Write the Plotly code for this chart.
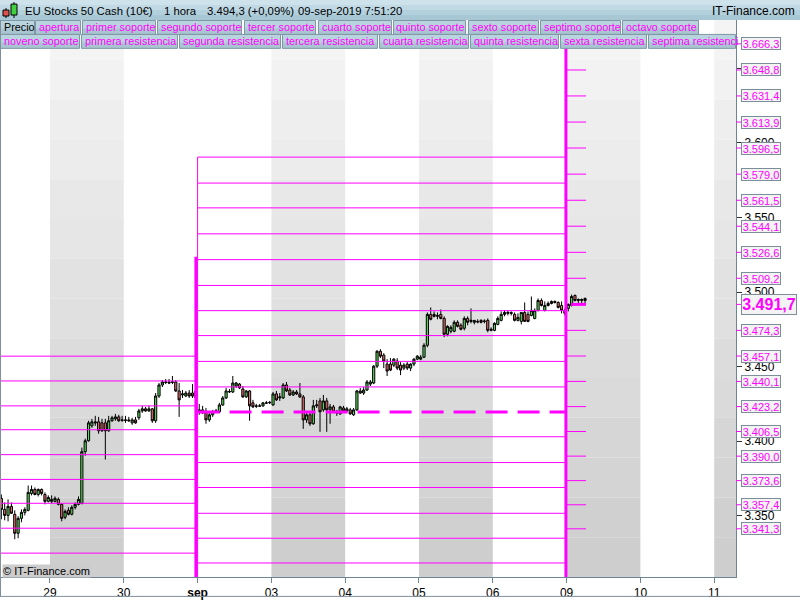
import plotly.graph_objects as go

# ---------------- data (hourly candles, O,H,L,C) ----------------
aug28 = [
    (3361.7, 3364.3, 3347.7, 3354.3), (3354.3, 3359.0, 3347.0, 3350.3), (3350.3, 3361.0, 3346.3, 3356.3),
    (3356.3, 3359.0, 3351.7, 3351.7), (3351.0, 3353.7, 3334.3, 3338.3), (3338.3, 3349.7, 3335.0, 3348.3),
    (3348.3, 3354.3, 3345.7, 3352.3), (3352.3, 3355.7, 3350.3, 3354.3), (3353.7, 3370.3, 3353.0, 3365.7),
    (3365.0, 3370.3, 3363.7, 3367.7), (3367.7, 3369.0, 3363.7, 3364.3), (3364.3, 3368.3, 3363.0, 3367.7),
    (3367.7, 3368.3, 3363.7, 3365.0), (3364.3, 3365.7, 3357.7, 3359.7), (3359.7, 3363.7, 3359.0, 3362.3),
]
aug29 = [
    (3361.0, 3363.7, 3358.3, 3359.7), (3359.7, 3363.0, 3359.0, 3361.7), (3361.0, 3362.3, 3357.0, 3357.7),
    (3357.7, 3358.3, 3346.3, 3348.3), (3349.0, 3354.3, 3347.7, 3353.0), (3353.7, 3355.7, 3350.3, 3351.0),
    (3351.0, 3357.0, 3350.3, 3355.7), (3355.7, 3359.0, 3354.3, 3357.7), (3357.7, 3363.0, 3357.0, 3361.0),
    (3358.3, 3395.7, 3357.7, 3393.0), (3393.0, 3401.7, 3390.3, 3400.3), (3400.3, 3413.7, 3399.7, 3412.3),
    (3410.3, 3415.0, 3409.0, 3413.0), (3413.0, 3417.0, 3410.3, 3412.3), (3413.0, 3416.3, 3405.0, 3407.0),
    (3412.3, 3415.0, 3406.3, 3407.0), (3412.3, 3415.0, 3387.7, 3407.0), (3407.0, 3417.0, 3406.3, 3413.7),
    (3413.7, 3417.0, 3413.0, 3415.7), (3415.0, 3418.3, 3413.7, 3416.3), (3416.3, 3417.7, 3413.0, 3413.7),
    (3414.3, 3417.0, 3413.0, 3414.0),
]
aug30 = [
    (3414.3, 3417.0, 3412.3, 3414.0), (3414.3, 3416.3, 3413.0, 3413.7), (3412.3, 3415.7, 3411.0, 3414.3),
    (3414.3, 3416.3, 3411.7, 3412.3), (3415.7, 3421.7, 3414.3, 3420.3), (3420.3, 3423.7, 3419.0, 3421.7),
    (3421.7, 3423.0, 3419.7, 3420.3), (3420.3, 3423.7, 3419.7, 3421.7), (3421.7, 3422.3, 3412.3, 3413.7),
    (3413.7, 3432.3, 3412.3, 3430.3), (3430.3, 3439.0, 3429.0, 3437.7), (3437.7, 3441.0, 3436.3, 3439.7),
    (3439.7, 3441.7, 3438.3, 3439.5), (3439.7, 3441.7, 3438.3, 3439.0), (3439.7, 3443.7, 3438.3, 3439.5),
    (3439.7, 3441.0, 3433.0, 3433.7), (3433.7, 3439.0, 3416.3, 3427.7), (3431.0, 3434.3, 3429.0, 3431.7),
    (3430.3, 3433.7, 3429.7, 3432.3), (3432.3, 3434.3, 3429.0, 3430.3), (3432.3, 3438.3, 3429.0, 3430.3),
    (3429.0, 3437.0, 3427.7, 3433.7),
]
sep02 = [
    (3421.0, 3425.0, 3417.7, 3419.7), (3421.0, 3423.7, 3418.3, 3419.0), (3419.7, 3422.3, 3411.7, 3414.3),
    (3414.3, 3419.7, 3413.0, 3417.7), (3417.7, 3421.0, 3416.3, 3419.7), (3419.7, 3421.7, 3419.0, 3420.3),
    (3419.7, 3425.7, 3419.0, 3424.3), (3424.3, 3430.3, 3423.7, 3429.0), (3429.0, 3435.7, 3428.3, 3433.7),
    (3433.0, 3435.0, 3432.3, 3433.3), (3433.0, 3443.7, 3432.3, 3439.0), (3437.0, 3439.7, 3435.7, 3439.0),
    (3438.3, 3439.0, 3435.0, 3435.7), (3435.0, 3437.0, 3429.0, 3429.7), (3429.7, 3434.3, 3429.0, 3433.7),
    (3433.7, 3434.3, 3413.7, 3423.7), (3425.7, 3427.7, 3422.3, 3423.0), (3423.7, 3425.0, 3422.3, 3423.5),
    (3423.7, 3425.0, 3423.0, 3423.5), (3423.7, 3426.3, 3423.0, 3425.7), (3425.7, 3427.0, 3425.0, 3425.5),
    (3425.7, 3427.0, 3425.0, 3426.0),
]
sep03 = [
    (3424.3, 3433.0, 3423.7, 3431.7), (3431.7, 3433.7, 3427.0, 3427.7), (3429.0, 3432.3, 3427.0, 3429.7),
    (3429.0, 3439.0, 3428.3, 3437.7), (3437.7, 3439.7, 3433.0, 3433.7), (3434.3, 3435.7, 3430.3, 3431.0),
    (3431.0, 3434.3, 3430.3, 3433.0), (3433.0, 3434.3, 3431.0, 3431.7), (3431.7, 3439.0, 3429.0, 3429.7),
    (3429.7, 3431.0, 3408.3, 3414.3), (3414.3, 3419.0, 3412.3, 3417.7), (3417.7, 3419.7, 3410.3, 3411.7),
    (3411.7, 3427.7, 3411.0, 3423.7), (3423.7, 3427.7, 3422.3, 3424.3), (3427.0, 3429.0, 3406.3, 3419.7),
    (3421.0, 3431.0, 3419.7, 3427.0), (3427.0, 3429.0, 3406.3, 3421.0), (3421.0, 3425.0, 3411.7, 3423.0),
    (3423.0, 3424.3, 3419.0, 3419.7), (3419.7, 3421.0, 3417.0, 3419.0), (3418.3, 3423.7, 3417.7, 3423.0),
    (3422.3, 3423.7, 3419.0, 3420.3),
]
sep04 = [
    (3420.3, 3423.0, 3419.7, 3421.7), (3421.0, 3422.3, 3417.7, 3418.3), (3417.7, 3422.3, 3417.0, 3421.0),
    (3421.0, 3434.3, 3420.3, 3433.7), (3433.7, 3435.7, 3431.7, 3432.3), (3432.3, 3436.3, 3431.0, 3434.3),
    (3434.3, 3441.0, 3433.7, 3439.7), (3438.3, 3441.0, 3437.0, 3439.7), (3439.0, 3451.0, 3438.3, 3450.3),
    (3450.3, 3461.0, 3449.0, 3460.3), (3460.3, 3461.7, 3455.7, 3457.0), (3457.7, 3459.0, 3449.0, 3453.7),
    (3451.7, 3455.0, 3443.7, 3447.0), (3451.7, 3455.7, 3447.0, 3447.7), (3451.0, 3455.7, 3449.7, 3455.0),
    (3453.7, 3455.7, 3447.7, 3449.0), (3451.0, 3453.0, 3444.3, 3447.7), (3449.0, 3452.3, 3447.7, 3451.0),
    (3451.7, 3453.0, 3447.7, 3449.0), (3449.0, 3452.3, 3447.0, 3451.7), (3451.7, 3455.7, 3450.3, 3455.0),
    (3455.0, 3457.7, 3454.3, 3457.0),
]
sep05 = [
    (3455.0, 3457.7, 3454.3, 3456.3), (3456.3, 3465.7, 3455.7, 3464.3), (3464.3, 3486.3, 3463.0, 3485.0),
    (3485.0, 3489.7, 3481.0, 3481.7), (3485.0, 3487.0, 3483.0, 3483.7), (3483.7, 3486.3, 3481.7, 3484.3),
    (3485.0, 3488.3, 3481.7, 3482.3), (3482.3, 3483.7, 3469.7, 3471.7), (3471.7, 3477.7, 3470.3, 3477.0),
    (3473.7, 3477.7, 3472.3, 3476.3), (3473.7, 3481.0, 3473.0, 3479.7), (3479.7, 3481.0, 3476.3, 3477.0),
    (3477.7, 3479.0, 3474.3, 3475.0), (3475.7, 3483.7, 3474.3, 3482.3), (3482.3, 3483.7, 3477.7, 3479.7),
    (3480.3, 3489.0, 3479.0, 3481.0), (3479.7, 3481.0, 3478.3, 3481.0), (3480.3, 3481.7, 3479.0, 3480.0),
    (3481.0, 3481.7, 3479.0, 3479.7), (3480.3, 3481.7, 3479.0, 3480.5), (3481.0, 3482.3, 3473.0, 3474.3),
    (3474.3, 3476.3, 3473.7, 3475.0),
]
sep06 = [
    (3474.3, 3479.7, 3473.7, 3479.0), (3478.3, 3483.7, 3477.7, 3482.3), (3481.0, 3487.0, 3480.3, 3485.0),
    (3485.0, 3487.7, 3483.7, 3486.3), (3485.7, 3487.7, 3484.3, 3486.3), (3486.3, 3487.0, 3484.3, 3485.7),
    (3485.0, 3486.3, 3480.3, 3481.0), (3481.0, 3485.7, 3480.3, 3483.0), (3480.3, 3486.3, 3478.3, 3486.3),
    (3486.3, 3493.0, 3480.3, 3480.3), (3485.0, 3487.0, 3479.7, 3480.3), (3484.3, 3497.0, 3483.7, 3487.7),
    (3482.3, 3489.0, 3481.7, 3487.7), (3487.7, 3495.7, 3487.0, 3494.3), (3494.3, 3495.7, 3490.3, 3491.0),
    (3487.7, 3493.7, 3487.0, 3491.0), (3491.0, 3493.7, 3490.3, 3492.3), (3492.3, 3494.3, 3491.7, 3493.7),
    (3493.7, 3494.3, 3492.3, 3493.0), (3493.0, 3493.7, 3489.0, 3489.7), (3491.0, 3493.7, 3485.7, 3487.7),
    (3487.7, 3489.0, 3484.3, 3485.7),
]
sep09 = [
    (3489.0, 3492.3, 3487.0, 3491.7), (3491.0, 3498.3, 3490.3, 3497.0), (3497.7, 3498.3, 3493.7, 3494.3),
    (3494.3, 3495.7, 3492.3, 3495.0), (3494.3, 3495.7, 3492.3, 3495.0), (3495.7, 3496.3, 3491.7, 3494.3),
]

# day boundaries (bar index) and labels
day_ticks = [14.5, 36.5, 58.5, 80.5, 102.5, 124.5, 146.5, 168.5, 190.5, 212.5]
day_labels = ["29", "30", "<b>sep</b>", "03", "04", "05", "06", "09", "10", "11"]
shaded_days = [0, 3, 5, 7, 9]   # odd dates: 29, 03, 05, 09, 11

# weekly pivot levels
week1_levels = [3457.0, 3440.4, 3423.7, 3407.7, 3391.0, 3374.4, 3358.4, 3341.7, 3325.0]
week2_levels = [3590.4, 3573.0, 3556.4, 3539.0, 3521.7, 3504.4, 3487.5, 3470.8, 3453.5, 3436.4,
                3403.0, 3385.7, 3369.0, 3351.7, 3335.0, 3318.4]
week2_open = 3419.5
week3_levels = [3666.3, 3648.8, 3631.4, 3613.9, 3596.5, 3579.0, 3561.5, 3544.1, 3526.6, 3509.2,
                3474.3, 3457.1, 3440.1, 3423.2, 3406.5, 3390.0, 3373.6, 3357.4, 3341.3]
week3_open = 3491.7

price_ticks = [3350, 3400, 3450, 3500, 3550, 3600, 3650]

legend_row1 = ["Precio", "apertura", "primer soporte", "segundo soporte", "tercer soporte",
               "cuarto soporte", "quinto soporte", "sexto soporte", "septimo soporte", "octavo soporte"]
legend_row2 = ["noveno soporte", "primera resistencia", "segunda resistencia", "tercera resistencia",
               "cuarta resistencia", "quinta resistencia", "sexta resistencia", "septima resistenci"]

header_items = ["EU Stocks 50 Cash (10€)", "1 hora", "3.494,3 (+0,09%)", "09-sep-2019 7:51:20"]

# ---------------- build ----------------
candles = aug28 + aug29 + aug30 + sep02 + sep03 + sep04 + sep05 + sep06 + sep09
opens = [c[0] for c in candles]
highs = [c[1] for c in candles]
lows = [c[2] for c in candles]
closes = [c[3] for c in candles]
bar_x = list(range(len(candles)))

X_MIN, X_MAX = -0.4, 219.0
Y_MIN, Y_MAX = 3309.0, 3682.3
W1_END, W2_START, W2_END = 58.0, 58.5, 168.0
W3_START, W3_END = 168.5, 174.3

FONT = "Liberation Sans, Arial, sans-serif"
MAG = "#ff00ff"
ML, MT, PW, PH = 0, 20, 736, 560


def xp(px):
    return (px - ML) / PW


def yp(py):
    return (MT + PH - py) / PH


def es(v):
    s = f"{v:,.1f}"
    return s.replace(",", "X").replace(".", ",").replace("X", ".")


fig = go.Figure()


def seg_trace(levels, x0, x1, width=1, dash=None):
    xs, ys = [], []
    for v in levels:
        xs += [x0, x1, None]
        ys += [v, v, None]
    fig.add_trace(go.Scatter(x=xs, y=ys, mode="lines", hoverinfo="skip", showlegend=False,
                             line=dict(color=MAG, width=width, dash=dash)))


seg_trace(week1_levels, X_MIN, W1_END)
seg_trace(week2_levels, W2_START, W2_END)
seg_trace([week2_open], W2_START, W2_END, width=3, dash="22px,10px")
seg_trace(week3_levels, W3_START, W3_END)
seg_trace([week3_open], W3_START + 1.3, W3_END, width=3)

# vertical connectors at week changes
fig.add_trace(go.Scatter(x=[W2_START, W2_START], y=[week2_levels[0], Y_MIN], mode="lines",
                         line=dict(color=MAG, width=1), hoverinfo="skip", showlegend=False))
fig.add_trace(go.Scatter(x=[W1_END, W1_END], y=[3523.7, Y_MIN], mode="lines",
                         line=dict(color=MAG, width=3), hoverinfo="skip", showlegend=False))
fig.add_trace(go.Scatter(x=[W3_START - 0.2, W3_START - 0.2], y=[3663.7, Y_MIN], mode="lines",
                         line=dict(color=MAG, width=3), hoverinfo="skip", showlegend=False))

fig.add_trace(go.Candlestick(
    x=bar_x, open=opens, high=highs, low=lows, close=closes,
    increasing=dict(fillcolor="#5cd65c", line=dict(color="black", width=1)),
    decreasing=dict(fillcolor="#e26b6b", line=dict(color="black", width=1)),
    whiskerwidth=0, hoverinfo="skip", showlegend=False))

shapes = []
# shaded day stripes with vertical gradient
NB = 14
for d in shaded_days:
    x0 = day_ticks[d]
    x1 = day_ticks[d + 1] if d + 1 < len(day_ticks) else X_MAX
    for b in range(NB):
        ytop = MT + b * PH / NB
        ybot = MT + (b + 1) * PH / NB
        g = int(round(246 - 42 * ((ytop + ybot) / 2 - MT) / PH))
        shapes.append(dict(type="rect", xref="x", yref="paper", x0=x0, x1=min(x1, X_MAX),
                           y0=yp(ybot), y1=yp(ytop), fillcolor=f"rgb({g},{g},{g})",
                           line=dict(width=0), layer="below"))

# header band gradient
for i, col in enumerate(["#cde2eb", "#c0d9e4", "#b3d0dd", "#a7c7d5"]):
    shapes.append(dict(type="rect", xref="paper", yref="paper", x0=xp(0), x1=xp(800),
                       y0=yp(5 * (i + 1)), y1=yp(5 * i), fillcolor=col, line=dict(width=0), layer="above"))

# legend boxes
row1_edges = [(0, 35), (35, 81), (82, 156), (157, 242), (244, 316), (318, 392), (393, 466),
              (468, 539), (540, 621), (622, 699)]
row2_edges = [(0, 80), (81, 178), (179, 281), (282, 378), (379, 469), (470, 559), (560, 647), (648, 736)]
annotations = []
for names, edges, (yt, yb) in [(legend_row1, row1_edges, (20.5, 34.5)), (legend_row2, row2_edges, (34.5, 48.5))]:
    for name, (a, b) in zip(names, edges):
        shapes.append(dict(type="rect", xref="paper", yref="paper", x0=xp(a + 0.5), x1=xp(b - 0.5),
                           y0=yp(yb), y1=yp(yt), fillcolor="#bad4df",
                           line=dict(width=0), layer="above"))
        shapes.append(dict(type="rect", xref="paper", yref="paper", x0=xp(a + 0.5), x1=xp(b - 0.5),
                           y0=yp(yb), y1=yp((yt + yb) / 2 + 1), fillcolor="#a9c5d1",
                           line=dict(width=0), layer="above"))
        shapes.append(dict(type="rect", xref="paper", yref="paper", x0=xp(a + 0.5), x1=xp(b - 0.5),
                           y0=yp(yb), y1=yp(yt), fillcolor="rgba(0,0,0,0)",
                           line=dict(color="#7f97a5", width=1), layer="above"))
        annotations.append(dict(text=name, xref="paper", yref="paper", x=xp(a + 1.5), y=yp((yt + yb) / 2),
                                xanchor="left", yanchor="middle", showarrow=False,
                                font=dict(family=FONT, size=10.8, color="black" if name == "Precio" else MAG)))

# header texts
for txt, px in zip(header_items, [23, 162, 205, 296]):
    annotations.append(dict(text=txt, xref="paper", yref="paper", x=xp(px), y=yp(10.5), xanchor="left",
                            yanchor="middle", showarrow=False, font=dict(family=FONT, size=11.3, color="black")))
annotations.append(dict(text="IT-Finance.com", xref="paper", yref="paper", x=xp(797), y=yp(10.5),
                        xanchor="right", yanchor="middle", showarrow=False,
                        font=dict(family=FONT, size=12, color="black")))

# header icon (two mini candles)
shapes += [
    dict(type="line", xref="paper", yref="paper", x0=xp(6), x1=xp(6), y0=yp(18), y1=yp(8),
         line=dict(color="black", width=1), layer="above"),
    dict(type="rect", xref="paper", yref="paper", x0=xp(3), x1=xp(9), y0=yp(16), y1=yp(10),
         fillcolor="#e05050", line=dict(color="black", width=1), layer="above"),
    dict(type="line", xref="paper", yref="paper", x0=xp(14), x1=xp(14), y0=yp(18), y1=yp(2),
         line=dict(color="black", width=1), layer="above"),
    dict(type="rect", xref="paper", yref="paper", x0=xp(11), x1=xp(17), y0=yp(15), y1=yp(4),
         fillcolor="#40d040", line=dict(color="black", width=1), layer="above"),
]

# right-hand level labels
for v in week3_levels:
    shapes.append(dict(type="line", xref="paper", yref="y", x0=1, x1=xp(741), y0=v, y1=v,
                       line=dict(color=MAG, width=1), layer="above"))
    annotations.append(dict(text=es(v), xref="paper", yref="y", x=xp(741), y=v, xanchor="left",
                            yanchor="middle", showarrow=False, width=38, height=11,
                            bgcolor="#f3f3f3", bordercolor="#7d8e9b", borderwidth=1, borderpad=0,
                            font=dict(family=FONT, size=11, color=MAG)))
shapes.append(dict(type="line", xref="paper", yref="y", x0=1, x1=xp(741), y0=week3_open, y1=week3_open,
                   line=dict(color=MAG, width=1), layer="above"))
annotations.append(dict(text="<b>" + es(week3_open) + "</b>", xref="paper", yref="y", x=xp(741),
                        y=week3_open, xanchor="left", yanchor="middle", showarrow=False,
                        width=54, height=19, bgcolor="#f3f3f3", bordercolor="#7d8e9b", borderwidth=1,
                        borderpad=0, font=dict(family=FONT, size=16, color=MAG)))

# copyright
annotations.append(dict(text="© IT-Finance.com", xref="paper", yref="paper", x=xp(2), y=yp(573.5),
                        xanchor="left", yanchor="middle", showarrow=False, bgcolor="#cccccc", borderpad=0,
                        font=dict(family=FONT, size=11, color="black")))

# outer frame (left and bottom)
shapes += [
    dict(type="line", xref="paper", yref="paper", x0=xp(0.5), x1=xp(0.5), y0=yp(599.5), y1=yp(20),
         line=dict(color="#7f8f9c", width=1), layer="above"),
    dict(type="line", xref="paper", yref="paper", x0=xp(0), x1=xp(800), y0=yp(599.5), y1=yp(599.5),
         line=dict(color="#7f8f9c", width=1), layer="above"),
]

fig.update_layout(
    width=800, height=600, margin=dict(l=ML, r=800 - ML - PW, t=MT, b=600 - MT - PH),
    paper_bgcolor="white", plot_bgcolor="white", showlegend=False, boxgap=0.08,
    shapes=shapes, annotations=annotations,
    font=dict(family=FONT, size=12, color="black"),
    xaxis=dict(range=[X_MIN, X_MAX], tickvals=day_ticks, ticktext=day_labels, ticks="outside",
               ticklen=5, tickcolor="#6f8494", showline=True, linecolor="#6f8494", linewidth=1,
               showgrid=False, zeroline=False, rangeslider=dict(visible=False),
               tickfont=dict(family=FONT, size=12, color="black"), fixedrange=True),
    yaxis=dict(range=[Y_MIN, Y_MAX], side="right", tickvals=price_ticks,
               ticktext=[es(t)[:-2] for t in price_ticks], ticks="outside", ticklen=5,
               tickcolor="#333333", showline=True, linecolor="#6f8494", linewidth=1, showgrid=False,
               zeroline=False, tickfont=dict(family=FONT, size=12, color="black"), fixedrange=True),
)

fig.write_html("out.html", config={"displayModeBar": False},
               post_script="document.body.style.margin='0';document.body.style.overflow='hidden';")
